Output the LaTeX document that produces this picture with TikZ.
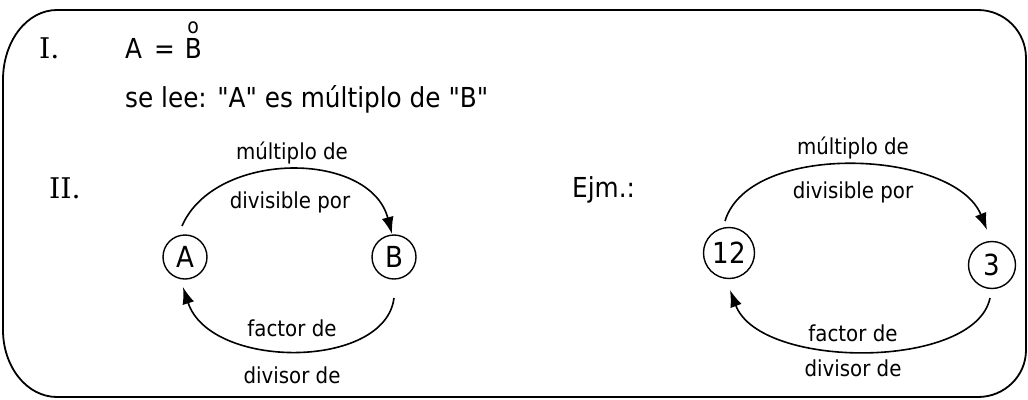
\documentclass[tikz,border=0pt]{standalone}
\usepackage{fontspec}
\setmainfont{DejaVu Sans}[FakeStretch=0.9,Ligatures=TeXOff]
\newfontfamily\romfont{DejaVu Serif}
\usetikzlibrary{arrows.meta,calc}
\begin{document}
\begin{tikzpicture}[x=1pt,y=-1pt,
  big/.style={inner sep=0pt,anchor=base west,font=\fontsize{27.5}{30}\selectfont},
  rom/.style={inner sep=0pt,anchor=base west,font=\romfont\fontsize{28.5}{30}\selectfont},
  lbl/.style={inner sep=0pt,font=\fontsize{22}{24}\selectfont},
  circ/.style={draw,circle,line width=1.4pt,inner sep=0pt,font=\fontsize{29}{30}\selectfont},
  arc/.style={line width=1.6pt,-{Latex[length=17pt,width=12pt]}},
  frame/.style={line width=1.8pt}]
\useasboundingbox (0,0) rectangle (1028,399);
% frame
\draw[frame] (57,10) -- (978,10) .. controls (1004.5,10) and (1026,31.5) .. (1026,58)
  -- (1026,350) .. controls (1026,376) and (1004.5,397) .. (978,397)
  -- (57,397) .. controls (27,397) and (3,367) .. (3,330)
  -- (3,80) .. controls (3,41) and (27,10) .. (57,10) -- cycle;
% texts
\node[rom] (t1) at (39,58) {I.};
\node[big] (eq) at (125,58) {A\hspace{12pt}=\hspace{10pt}B};
\node[inner sep=0pt,font=\fontsize{21}{21}\selectfont] (ring) at ($(eq.base east)+(-9,-30)$) {o};
\node[big] (lee) at (125,107) {se lee: "A" es múltiplo de "B"};
\node[rom] (t2) at (49,198) {II.};
\node[big] (ejm) at (572,197) {Ejm.:};
% circles
\node[circ,minimum size=44pt] (A) at (185,257) {A};
\node[circ,minimum size=44pt] (B) at (394,257) {B};
\node[circ,minimum size=51pt] (n12) at (729,253) {12};
\node[circ,minimum size=47pt] (n3) at (992,265) {3};
% labels
\node[lbl] (m1) at (292,153) {múltiplo de};
\node[lbl] (d1) at (290,202) {divisible por};
\node[lbl] (f1) at (292,328) {factor de};
\node[lbl] (v1) at (292,375) {divisor de};
\node[lbl] (m2) at (853,148) {múltiplo de};
\node[lbl] (d2) at (853,192) {divisible por};
\node[lbl] (f2) at (853,333) {factor de};
\node[lbl] (v2) at (853,368) {divisor de};
% connectors
\draw[arc] ($(A.center)+(-3,-31)$) .. controls (215,150) and (370,150) .. ($(B.center)+(-2,-23)$);
\draw[arc] ($(B.center)+(0,41)$) .. controls (385,370) and (210,370) .. ($(A.center)+(-2,30)$);
\draw[arc] ($(n12.center)+(-4,-32)$) .. controls (750,140) and (955,150) .. ($(n3.center)+(-5,-35)$);
\draw[arc] ($(n3.center)+(-2,33)$) .. controls (975,370) and (760,370) .. ($(n12.center)+(1,37)$);
\end{tikzpicture}
\end{document}
